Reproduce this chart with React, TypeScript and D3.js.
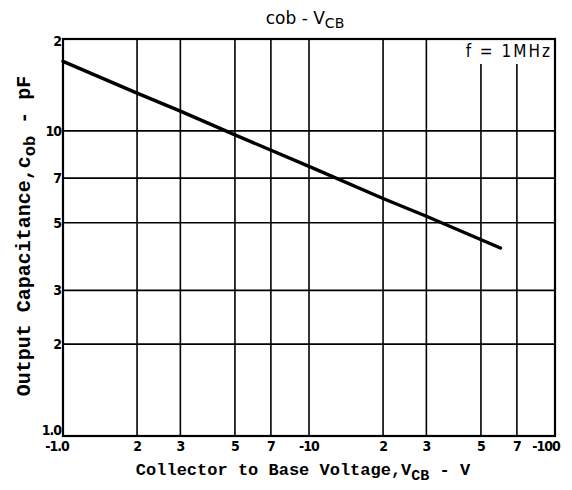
import React from 'react';
import * as d3 from 'd3';

// values (|VCB| in volts, cob in pF)
const vcb = [1, 2, 3, 5, 10, 20, 30, 60];
const cob = [16.9, 13.3, 11.6, 9.7, 7.65, 6.0, 5.25, 4.13];

const xGrid = [2, 3, 5, 7, 10, 20, 30, 50, 70];
const xTickLabels = ['-1.0', '2', '3', '5', '7', '-10', '2', '3', '5', '7', '-100'];
const xTickValues = [1, 2, 3, 5, 7, 10, 20, 30, 50, 70, 100];
const yGrid = [2, 3, 5, 7, 10];
const yTickValues = [1, 2, 3, 5, 7, 10, 20];
const yTickLabels = ['1.0', '2', '3', '5', '7', '10', '2'];

const W = 572;
const H = 490;
const margin = { top: 39, right: 17, bottom: 54, left: 63 };

export default function App() {
  const x = d3.scaleLog().domain([1, 100]).range([margin.left, W - margin.right]);
  const y = d3.scaleLog().domain([1, 20]).range([H - margin.bottom, margin.top]);

  const line = d3.line<number>()
    .x((d, i) => x(vcb[i]))
    .y(d => y(d));

  const tickFont = '"DejaVu Sans Condensed", "DejaVu Sans", sans-serif';
  const labelFont = '"Liberation Mono", "DejaVu Sans Mono", monospace';

  return (
    <svg width={W} height={H} style={{ position: 'absolute', left: 0, top: 0, background: '#fff' }}>
      <rect width={W} height={H} fill="#fff" />
      {/* vertical grid, the two right ones stop under the note */}
      {xGrid.map(v => (
        <line key={'vx' + v}
          x1={x(v)} x2={x(v)}
          y1={v >= 50 ? 64 : y(20)} y2={y(1)}
          stroke="#000" strokeWidth={1.6} />
      ))}
      {yGrid.map(v => (
        <line key={'hy' + v}
          x1={x(1)} x2={x(100)} y1={y(v)} y2={y(v)}
          stroke="#000" strokeWidth={1.6} />
      ))}
      <rect x={x(1)} y={y(20)} width={x(100) - x(1)} height={y(1) - y(20)}
        fill="none" stroke="#000" strokeWidth={2.2} />

      <path d={line(cob) || ''} fill="none" stroke="#000" strokeWidth={3.4} strokeLinecap="round" />

      {xTickValues.map((v, i) => (
        <text key={'xt' + i} x={x(v) + (i === 0 ? -6 : i === xTickValues.length - 1 ? -9 : 0)} y={y(1) + 15}
          textAnchor="middle" fontFamily={tickFont} fontWeight="bold" fontSize={14}
          letterSpacing={-1}>{xTickLabels[i]}</text>
      ))}
      {yTickValues.map((v, i) => (
        <text key={'yt' + i} x={x(1) - 2} y={y(v) + (i === yTickValues.length - 1 ? 7 : i === 0 ? -1 : 5)}
          textAnchor="end" fontFamily={tickFont} fontWeight="bold" fontSize={14}
          letterSpacing={-1}>{yTickLabels[i]}</text>
      ))}

      <text x={x(100) - 3} y={y(20) + 18} textAnchor="end"
        fontFamily={tickFont} fontSize={17} letterSpacing={2}>f = 1MHz</text>

      <text x={305} y={24} textAnchor="middle" fontFamily='"DejaVu Sans", sans-serif' fontSize={17}>
        cob - V<tspan fontSize={14} dy={4}>CB</tspan>
      </text>

      <text x={303} y={475} textAnchor="middle" fontFamily={labelFont} fontWeight="bold" fontSize={17}>
        Collector to Base Voltage,V<tspan fontSize={15} dy={5}>CB</tspan><tspan dy={-5}> - V</tspan>
      </text>

      <text transform="translate(30,236) rotate(-90)" textAnchor="middle"
        fontFamily={labelFont} fontWeight="bold" fontSize={20}>
        Output Capacitance,c<tspan fontSize={17} dy={5}>ob</tspan><tspan dy={-5}> - pF</tspan>
      </text>
    </svg>
  );
}
